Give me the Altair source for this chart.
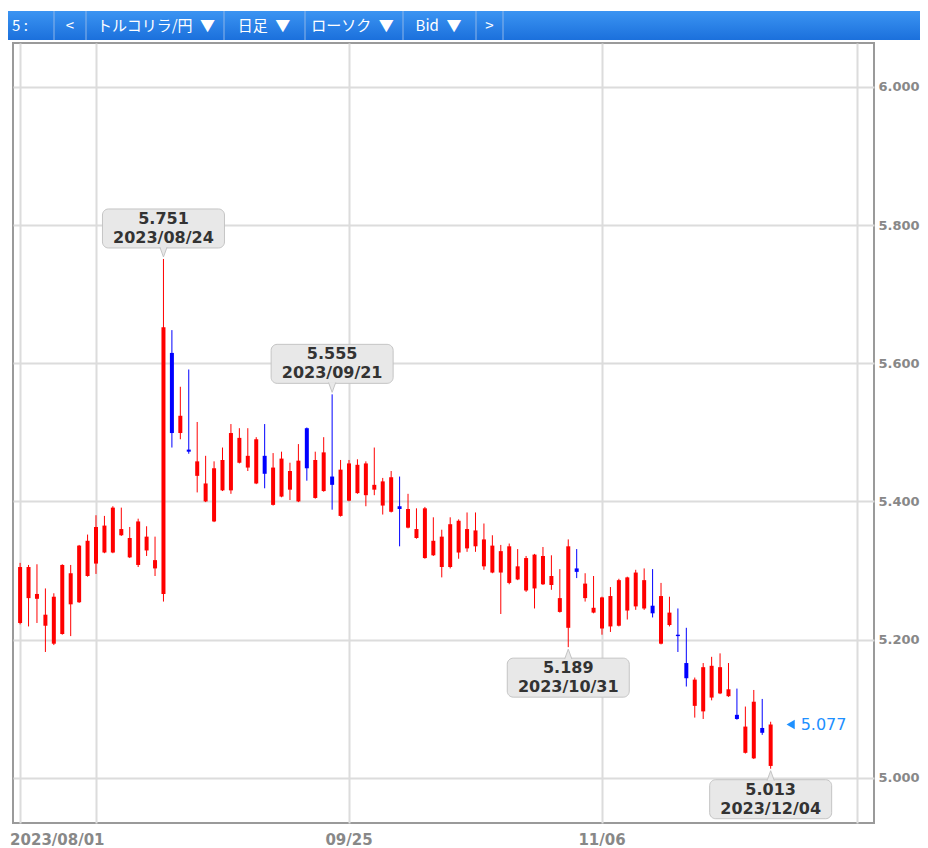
import altair as alt
import pandas as pd

# ---- data: TRY/JPY daily candles (Bid), 2023/08/01 .. 2023/12/04 ----
opens = [5.224, 5.260, 5.259, 5.220, 5.194, 5.208, 5.251, 5.254, 5.292, 5.310,
         5.326, 5.326, 5.351, 5.319, 5.308, 5.329, 5.303, 5.266, 5.615, 5.499,
         5.475, 5.437, 5.400, 5.371, 5.416, 5.416, 5.456, 5.449, 5.426, 5.466,
         5.395, 5.407, 5.417, 5.400, 5.506, 5.405, 5.415, 5.436, 5.379, 5.401,
         5.412, 5.409, 5.417, 5.394, 5.385, 5.393, 5.362, 5.347, 5.318, 5.322,
         5.305, 5.305, 5.326, 5.332, 5.335, 5.306, 5.297, 5.297, 5.282, 5.287,
         5.271, 5.274, 5.280, 5.279, 5.240, 5.217, 5.303, 5.260, 5.239, 5.216,
         5.219, 5.220, 5.242, 5.248, 5.245, 5.249, 5.194, 5.221, 5.207, 5.166,
         5.104, 5.096, 5.116, 5.122, 5.118, 5.091, 5.036, 5.028, 5.072, 5.017]
highs = [5.311, 5.308, 5.309, 5.274, 5.267, 5.309, 5.308, 5.337, 5.352, 5.380,
         5.379, 5.393, 5.391, 5.363, 5.375, 5.364, 5.349, 5.751, 5.648, 5.566,
         5.591, 5.515, 5.466, 5.458, 5.478, 5.512, 5.506, 5.506, 5.493, 5.512,
         5.470, 5.472, 5.456, 5.483, 5.507, 5.472, 5.493, 5.555, 5.460, 5.460,
         5.461, 5.458, 5.478, 5.434, 5.444, 5.436, 5.411, 5.390, 5.392, 5.377,
         5.359, 5.377, 5.374, 5.384, 5.384, 5.368, 5.351, 5.337, 5.339, 5.331,
         5.321, 5.324, 5.334, 5.322, 5.302, 5.345, 5.331, 5.296, 5.292, 5.262,
         5.276, 5.288, 5.291, 5.301, 5.303, 5.302, 5.282, 5.262, 5.245, 5.217,
         5.145, 5.166, 5.175, 5.180, 5.166, 5.129, 5.103, 5.127, 5.114, 5.081]
lows = [5.222, 5.219, 5.224, 5.182, 5.192, 5.207, 5.205, 5.253, 5.291, 5.295,
        5.325, 5.325, 5.350, 5.318, 5.305, 5.321, 5.292, 5.255, 5.478, 5.490,
        5.469, 5.413, 5.399, 5.370, 5.415, 5.411, 5.455, 5.444, 5.425, 5.419,
        5.394, 5.406, 5.402, 5.399, 5.430, 5.404, 5.414, 5.388, 5.378, 5.400,
        5.411, 5.393, 5.409, 5.381, 5.384, 5.335, 5.361, 5.346, 5.317, 5.321,
        5.290, 5.303, 5.317, 5.327, 5.327, 5.301, 5.296, 5.237, 5.280, 5.286,
        5.269, 5.245, 5.279, 5.272, 5.239, 5.189, 5.289, 5.255, 5.238, 5.207,
        5.211, 5.219, 5.229, 5.243, 5.243, 5.232, 5.193, 5.219, 5.182, 5.132,
        5.087, 5.085, 5.112, 5.121, 5.117, 5.084, 5.035, 5.027, 5.062, 5.013]
closes = [5.305, 5.305, 5.266, 5.236, 5.262, 5.308, 5.296, 5.336, 5.343, 5.363,
          5.365, 5.391, 5.360, 5.347, 5.371, 5.349, 5.315, 5.652, 5.499, 5.524,
          5.472, 5.458, 5.426, 5.448, 5.460, 5.499, 5.492, 5.466, 5.490, 5.440,
          5.449, 5.462, 5.444, 5.459, 5.448, 5.460, 5.471, 5.424, 5.446, 5.455,
          5.453, 5.455, 5.424, 5.429, 5.435, 5.389, 5.389, 5.360, 5.390, 5.343,
          5.349, 5.367, 5.372, 5.360, 5.358, 5.345, 5.336, 5.328, 5.335, 5.306,
          5.318, 5.323, 5.321, 5.292, 5.260, 5.335, 5.298, 5.281, 5.246, 5.261,
          5.263, 5.286, 5.290, 5.297, 5.286, 5.238, 5.263, 5.239, 5.205, 5.144,
          5.142, 5.160, 5.162, 5.160, 5.128, 5.085, 5.074, 5.110, 5.065, 5.077]
first_date = "2023-08-01"

y_ticks = [5.0, 5.2, 5.4, 5.6, 5.8, 6.0]
x_grid = [0, 9, 39, 69, 99.25]
x_label_idx = [0, 39, 69]
x_labels = ["2023/08/01", "09/25", "11/06"]
ann_high_idx = [17, 37]
ann_low_idx = [65, 89]
toolbar_labels = ["5 :", "<", "トルコリラ/円\u2002▼", "日足\u2002▼", "ローソク\u2002▼", "Bid\u2002▼", ">"]

# ---- layout / style (not data) ----
W, H = 861, 780
tb_text_x = [-1, 57, 143, 251, 339.5, 425.5, 476.5]
tb_text_align = ["left", "center", "center", "center", "center", "center", "center"]
tb_div_x = [41, 73, 211, 292, 390, 463, 490]
RED, BLUE = "#ff0000", "#0000ff"
GRID = "#dcdcdc"
FONT = "DejaVu Sans"
JFONT = "Noto Sans CJK JP"

n = len(opens)
dates = pd.bdate_range(first_date, periods=n)
df = pd.DataFrame({
    "i": list(range(n)),
    "open": opens, "high": highs, "low": lows, "close": closes,
    "date": [d.strftime("%Y/%m/%d") for d in dates],
})
df["dir"] = ["up" if c >= o else "down" for o, c in zip(opens, closes)]

xs = alt.Scale(domain=[-0.842, 101.254], nice=False, zero=False, padding=0)
ys = alt.Scale(domain=[4.9344, 6.0637], nice=False, zero=False, padding=0)
col = alt.Color("dir:N", scale=alt.Scale(domain=["up", "down"], range=[RED, BLUE]), legend=None)

x_axis = alt.Axis(values=x_grid, labels=False, ticks=False, domain=False, grid=True,
                  gridColor=GRID, gridWidth=2, title=None)
y_axis = alt.Axis(orient="right", values=y_ticks, format=".3f", labelFont=FONT,
                  labelFontSize=13, labelFontWeight="bold", labelColor="#888888",
                  labelPadding=4, ticks=False, domain=False, grid=True,
                  gridColor=GRID, gridWidth=2, title=None, labelAlign="left",
                  labelBaseline="middle", labelFlush=False, labelOverlap=False)


def X(field="i:Q"):
    return alt.X(field, scale=xs, axis=x_axis)


def Y(field):
    return alt.Y(field, scale=ys, axis=y_axis)


wicks = alt.Chart(df).mark_rule(strokeWidth=1).encode(
    x=X(), y=Y("low:Q"), y2="high:Q", color=col)
bodies = alt.Chart(df).mark_bar(size=4).encode(
    x=X(), y=Y("open:Q"), y2="close:Q", color=col)

layers = [wicks, bodies]

# ---- annotation boxes ----
BOX_FILL, BOX_STROKE = "#e8e8e8", "#c4c4c4"


def annotations(idx, above):
    field = "high" if above else "low"
    sub = df.iloc[idx].copy()
    sub["l1"] = [f"{v:.3f}" for v in sub[field]]
    sub["l2"] = sub["date"]
    s = -1 if above else 1
    base = alt.Chart(sub).encode(x=X(), y=Y(f"{field}:Q"))
    box = base.mark_rect(fill=BOX_FILL, stroke=BOX_STROKE, strokeWidth=1, cornerRadius=6,
                         xOffset=-61, x2Offset=61,
                         yOffset=s * 50, y2Offset=s * 11).encode(x2="i:Q", y2=f"{field}:Q")
    if above:
        fill_path = "M-0.8,-1.2L0,1L0.8,-1.2Z"
        line_path = "M-0.8,-1.2L0,1L0.8,-1.2"
    else:
        fill_path = "M-0.8,1.2L0,-1L0.8,1.2Z"
        line_path = "M-0.8,1.2L0,-1L0.8,1.2"
    caret_fill = base.mark_point(shape=fill_path, size=81, filled=True, fill=BOX_FILL,
                                 strokeWidth=0, opacity=1, yOffset=s * 6.5)
    caret_line = base.mark_point(shape=line_path, size=81, filled=False, stroke=BOX_STROKE,
                                 strokeWidth=1, opacity=1, yOffset=s * 6.5)
    t1 = base.mark_text(font=FONT, fontSize=16, fontWeight="bold", color="#333333",
                        align="center", baseline="middle",
                        yOffset=-40 if above else 21).encode(text="l1:N")
    t2 = base.mark_text(font=FONT, fontSize=16, fontWeight="bold", color="#333333",
                        align="center", baseline="middle",
                        yOffset=-21 if above else 40).encode(text="l2:N")
    return [box, caret_fill, caret_line, t1, t2]


layers += annotations(ann_high_idx, True)
layers += annotations(ann_low_idx, False)

# ---- current price marker ----
last = df.iloc[[n - 1]].copy()
last["txt"] = [f"{v:.3f}" for v in last["close"]]
lb = alt.Chart(last).encode(x=X(), y=Y("close:Q"))
layers.append(lb.mark_point(shape="triangle-left", size=90, filled=True, color="#1e90ff",
                            opacity=1, xOffset=20))
layers.append(lb.mark_text(font=FONT, fontSize=16, color="#1e90ff", align="left",
                           baseline="middle", xOffset=30).encode(text="txt:N"))

# ---- x labels ----
xl = pd.DataFrame({"i": x_label_idx, "lab": x_labels})
layers.append(alt.Chart(xl.iloc[[0]]).mark_text(
    font=FONT, fontSize=15, fontWeight="bold", color="#888888", align="left",
    baseline="middle", dx=-10).encode(x=X(), y=alt.value(H + 17), text="lab:N"))
layers.append(alt.Chart(xl.iloc[1:]).mark_text(
    font=FONT, fontSize=15, fontWeight="bold", color="#888888", align="center",
    baseline="middle").encode(x=X(), y=alt.value(H + 17), text="lab:N"))

# ---- toolbar ----
one = pd.DataFrame({"k": [0]})
grad = alt.Gradient(gradient="linear",
                    stops=[alt.GradientStop(color="#3b94f2", offset=0),
                           alt.GradientStop(color="#1b70dc", offset=1)],
                    x1=0, x2=0, y1=0, y2=1)
layers.append(alt.Chart(one).mark_rect(fill=grad).encode(
    x=alt.value(-5), x2=alt.value(W + 60), y=alt.value(-32), y2=alt.value(-3)))
for dx in tb_div_x:
    layers.append(alt.Chart(one).mark_rule(color="#8db5e8", strokeWidth=1).encode(
        x=alt.value(dx), y=alt.value(-32), y2=alt.value(-3)))
for lab, tx, al in zip(toolbar_labels, tb_text_x, tb_text_align):
    layers.append(alt.Chart(one).mark_text(
        font=JFONT, fontSize=15, color="#ffffff", align=al, baseline="middle").encode(
        x=alt.value(tx), y=alt.value(-17.5), text=alt.value(lab)))

chart = alt.layer(*layers).properties(
    width=W, height=H,
    padding={"left": 5, "top": 35, "right": 46, "bottom": 25},
    autosize=alt.AutoSizeParams(type="none"),
    background="#ffffff",
).configure_view(stroke="#9a9a9a", strokeWidth=2)

chart.save("out.html", embed_options={"renderer": "svg", "actions": False})
